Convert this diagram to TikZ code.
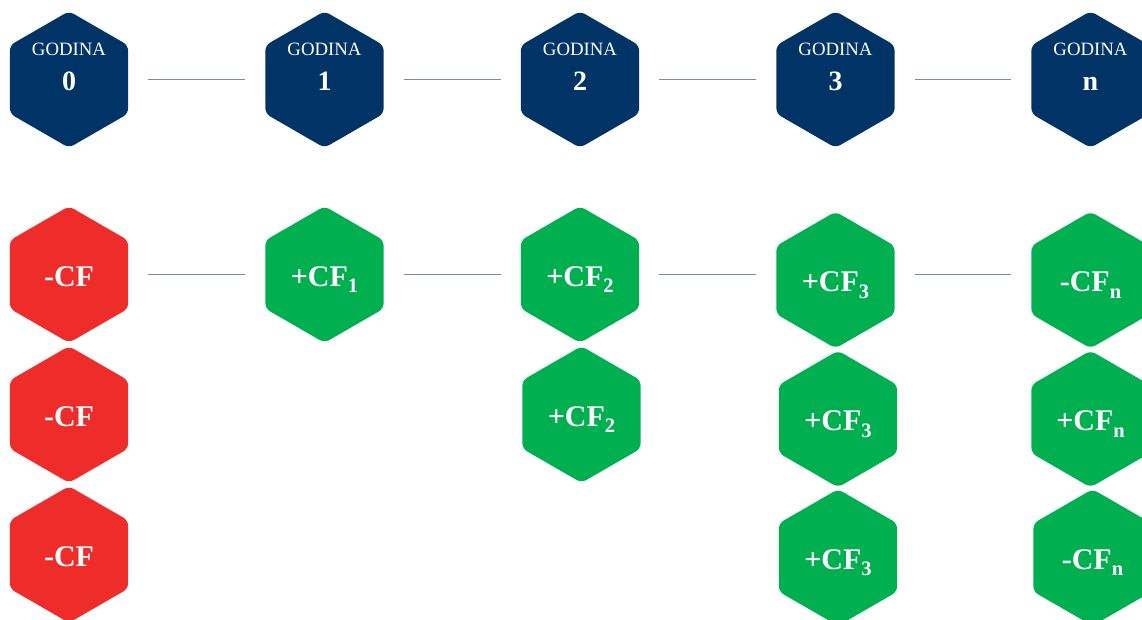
\documentclass[tikz,border=0pt]{standalone}
\usepackage{fontspec}
\setmainfont{Liberation Serif}
\usetikzlibrary{shapes.geometric}
\definecolor{navy}{HTML}{003366}
\definecolor{redhex}{HTML}{EE2D2B}
\definecolor{greenhex}{HTML}{00B050}
\definecolor{linkgray}{HTML}{7C8C9A}
\newcommand{\cfsub}[1]{\raisebox{-0.22em}{\fontsize{20.5}{20}\selectfont #1}}
\newcommand{\godina}[1]{{\fontsize{18.8}{20}\selectfont GODINA}\\{\rule[-26pt]{0pt}{60pt}\fontsize{28}{24}\selectfont\bfseries #1}}
\tikzset{
  hexbase/.style={regular polygon,regular polygon sides=6,shape border rotate=30,minimum size=136.6pt,inner sep=0pt,
    rounded corners=5.5pt,text=white,align=center,font=\fontsize{30}{32}\selectfont\bfseries},
  hourhex/.style={hexbase,fill=navy,font=\normalfont},
  cfhex/.style={hexbase,text height=23pt,text depth=0pt},
  neghex/.style={cfhex,fill=redhex},
  poshex/.style={cfhex,fill=greenhex},
  link/.style={draw=linkgray,line width=1.2pt,shorten >=20pt,shorten <=20pt}
}
\begin{document}
\begin{tikzpicture}[x=1pt,y=-1pt]
\useasboundingbox (0,0) rectangle (1142,620);
\clip (0,0) rectangle (1142,620);
% top row
\node[hourhex] (h0) at (69,79.5) {\godina{0}};
\node[hourhex] (h1) at (324.5,79.5) {\godina{1}};
\node[hourhex] (h2) at (580,79.5) {\godina{2}};
\node[hourhex] (h3) at (835.5,79.5) {\godina{3}};
\node[hourhex] (hn) at (1090.5,79.5) {\godina{n}};
% column 0
\node[neghex] (a1) at (69,274.5) {-CF};
\node[neghex] (a2) at (69,414.5) {-CF};
\node[neghex] (a3) at (69,554.5) {-CF};
% column 1
\node[poshex] (b1) at (324.5,274.5) {+CF\cfsub{1}};
% column 2
\node[poshex] (c1) at (580,274.5) {+CF\cfsub{2}};
\node[poshex] (c2) at (581.5,414.5) {+CF\cfsub{2}};
% column 3
\node[poshex] (d1) at (835.5,280) {+CF\cfsub{3}};
\node[poshex] (d2) at (838,419) {+CF\cfsub{3}};
\node[poshex] (d3) at (838,557.5) {+CF\cfsub{3}};
% column n
\node[poshex] (e1) at (1090.5,280) {-CF\cfsub{n}};
\node[poshex] (e2) at (1090.5,419) {+CF\cfsub{n}};
\node[poshex] (e3) at (1092.5,557.5) {-CF\cfsub{n}};
% connectors
\draw[link] (h0.east) -- (h1.west);
\draw[link] (h1.east) -- (h2.west);
\draw[link] (h2.east) -- (h3.west);
\draw[link] (h3.east) -- (hn.west);
\draw[link] (a1.east) -- (b1.west);
\draw[link] (b1.east) -- (c1.west);
\draw[link] (c1.east) -- (c1.east -| d1.west);
\draw[link] (c1.east -| d1.east) -- (c1.east -| e1.west);
\end{tikzpicture}
\end{document}
